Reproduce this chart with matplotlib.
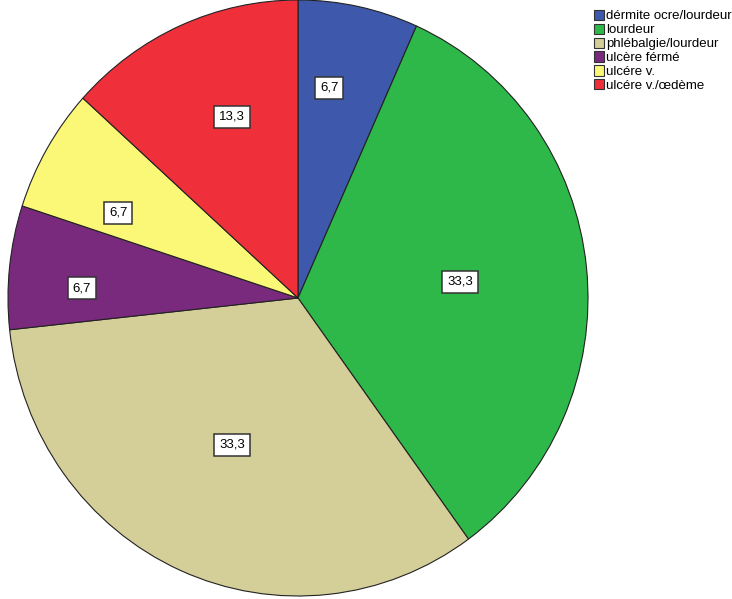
import numpy as np
import matplotlib.pyplot as plt
from matplotlib.patches import Patch

plt.rcParams['font.family'] = ['Liberation Sans', 'DejaVu Sans']

# données (pourcentages)
categories = ["dérmite ocre/lourdeur", "lourdeur", "phlébalgie/lourdeur",
              "ulcère férmé", "ulcére v.", "ulcére v./œdème"]
percents = [6.7, 33.3, 33.3, 6.7, 6.7, 13.3]
pct_labels = ["6,7", "33,3", "33,3", "6,7", "6,7", "13,3"]

colors = ["#3E58AC", "#2EB84A", "#D4CE98", "#7A2A7D", "#FBF877", "#EF303B"]
# placement of the value boxes (fraction of radius, angle shift in degrees)
label_r = [0.713, 0.561, 0.543, 0.746, 0.683, 0.649]
label_shift = [3.4, -0.4, -0.8, 3.4, 5.3, -3.4]

fig = plt.figure(figsize=(7.32, 5.99), dpi=100)
ax = fig.add_axes([8 / 732, 3 / 599, 580 / 732, 596 / 599])

wedges, _ = ax.pie(percents, colors=colors, startangle=90, counterclock=False,
                   wedgeprops=dict(edgecolor='#222222', linewidth=0.8))
ax.set_aspect('auto')
ax.set_xlim(-1.0, 1.0)
ax.set_ylim(-1.0, 1.0)

for w, lab, r, s in zip(wedges, pct_labels, label_r, label_shift):
    ang = np.deg2rad((w.theta1 + w.theta2) / 2 + s)
    ax.text(r * np.cos(ang), r * np.sin(ang), lab, ha='center', va='center',
            fontsize=9.5,
            bbox=dict(boxstyle='square,pad=0.36', facecolor='white',
                      edgecolor='#333333', linewidth=1.1))

handles = [Patch(facecolor=c, edgecolor='#333333', linewidth=0.8) for c in colors]
fig.legend(handles, categories, loc='upper left',
           bbox_to_anchor=(591 / 732, 1 - 7 / 599), frameon=False,
           fontsize=9.5, handlelength=0.75, handleheight=0.8,
           handletextpad=0.2, labelspacing=0.1, borderpad=0.2,
           borderaxespad=0)

fig.savefig("out.png", dpi=100)
